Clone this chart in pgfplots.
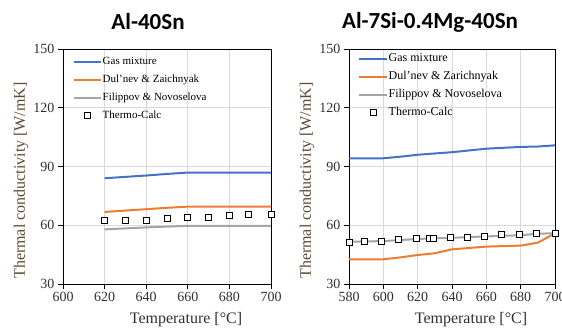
\documentclass[border=0pt]{standalone}
\usepackage{pgfplots}
\pgfplotsset{compat=1.18}
\usepackage{fontspec}
\setmainfont{Liberation Serif}
\newfontfamily\titlefont{Carlito}
\definecolor{cblue}{HTML}{4472C4}
\definecolor{corange}{HTML}{ED7D31}
\definecolor{cgray}{HTML}{A5A5A5}
\definecolor{gridc}{HTML}{D9D9D9}
\definecolor{ylabc}{HTML}{5C4A32}
\definecolor{tickc}{HTML}{303030}
\pgfplotsset{
  panel/.style={
    scale only axis, anchor=south west,
    height=235pt,
    ymin=30, ymax=150, ytick={30,60,90,120,150},
    xmax=700,
    grid=major, major grid style={gridc, line width=0.8pt},
    axis line style={black, line width=0.8pt},
    tick align=outside, xtick pos=bottom, ytick pos=left,
    major tick length=5pt, tick style={black, line width=0.8pt},
    /pgf/number format/assume math mode=true,
    /pgf/number format/1000 sep={},
    ticklabel style={font=\fontsize{14}{16}\selectfont, text=tickc},
    xlabel={Temperature [°C]}, ylabel={Thermal conductivity [W/mK]},
    xlabel style={font=\fontsize{16}{18}\selectfont, text=tickc, at={(rel axis cs:0.5,0)}, anchor=center, xshift=19pt, yshift=-36pt},
    ylabel style={font=\fontsize{16}{18}\selectfont, text=ylabc, at={(rel axis cs:0,0.5)}, anchor=center, xshift=-14pt, yshift=42pt},
    title style={font=\titlefont\bfseries\fontsize{23}{26}\selectfont, at={(rel axis cs:0.5,1)}, anchor=center, yshift=21pt},
    legend cell align=left,
    legend style={draw=none, fill=none, inner sep=0pt, nodes={inner sep=0.5pt, text height=8pt, text depth=2pt}},
  },
  ln/.style={no marks, line width=2pt},
  tc/.style={only marks, mark=square*, mark size=3pt, mark options={fill=white, draw=black, line width=0.9pt}},
}
\begin{document}
\begin{tikzpicture}
\useasboundingbox (0pt,0pt) rectangle (562pt,331pt);
\begin{axis}[panel, at={(63pt,47pt)}, width=208pt, xmin=600, xtick={600,620,...,700},
  title={Al-40Sn}, title style={xshift=-19pt},
  legend image code/.code={\draw[mark repeat=2,mark phase=2,#1] plot coordinates {(0pt,0pt)(13.5pt,0pt)(27pt,0pt)};},
  legend style={at={(rel axis cs:0,1)}, anchor=north west, xshift=10pt, yshift=-7pt, font=\fontsize{11}{12}\selectfont, row sep=7pt},
  /tikz/every even column/.append style={column sep=1pt}]
\addplot[cblue, ln] coordinates {(620,84.0)(630,84.7)(640,85.4)(650,86.2)(660,86.9)(700,86.9)};
\addlegendentry{Gas mixture}
\addplot[corange, ln] coordinates {(620,66.8)(630,67.5)(640,68.2)(650,68.9)(660,69.5)(700,69.5)};
\addlegendentry{Dul'nev \& Zaichnyak}
\addplot[cgray, ln] coordinates {(620,57.9)(630,58.4)(640,58.9)(650,59.3)(660,59.7)(700,59.7)};
\addlegendentry{Filippov \& Novoselova}
\addplot[tc] coordinates {(620,62.2)(630,62.2)(640,62.7)(650,63.4)(660,64.2)(670,64.2)(680,64.9)(689,65.7)(700,65.7)};
\addlegendentry{Thermo-Calc}
\end{axis}
\begin{axis}[panel, at={(349pt,47pt)}, width=206pt, xmin=580, xtick={580,600,...,700},
  title={Al-7Si-0.4Mg-40Sn}, title style={xshift=-22pt},
  legend image code/.code={\draw[mark repeat=2,mark phase=2,#1] plot coordinates {(0pt,0pt)(14pt,0pt)(28pt,0pt)};},
  legend style={at={(rel axis cs:0,1)}, anchor=north west, xshift=9pt, yshift=-4pt, font=\fontsize{12}{13}\selectfont, row sep=7pt},
  /tikz/every even column/.append style={column sep=1pt}]
\addplot[cblue, ln] coordinates {(580,94.2)(600,94.2)(610,95.0)(620,96.0)(640,97.3)(660,99.1)(680,100.0)(690,100.2)(700,100.8)};
\addlegendentry{Gas mixture}
\addplot[corange, ln] coordinates {(580,42.6)(600,42.6)(610,43.6)(620,44.8)(630,45.7)(640,47.7)(660,49.1)(680,49.6)(690,51.1)(700,55.9)};
\addlegendentry{Dul'nev \& Zarichnyak}
\addplot[cgray, ln] coordinates {(580,51.6)(600,51.9)(620,53.0)(640,53.6)(660,54.3)(680,54.9)(690,55.7)(700,55.9)};
\addlegendentry{Filippov \& Novoselova}
\addplot[tc] coordinates {(580,51.1)(589,51.8)(599,51.8)(609,52.5)(619,53.1)(627,53.1)(629,53.1)(639,53.8)(649,53.8)(659,54.5)(669,55.2)(679,55.2)(689,55.9)(700,55.9)};
\addlegendentry{Thermo-Calc}
\end{axis}
\end{tikzpicture}
\end{document}
